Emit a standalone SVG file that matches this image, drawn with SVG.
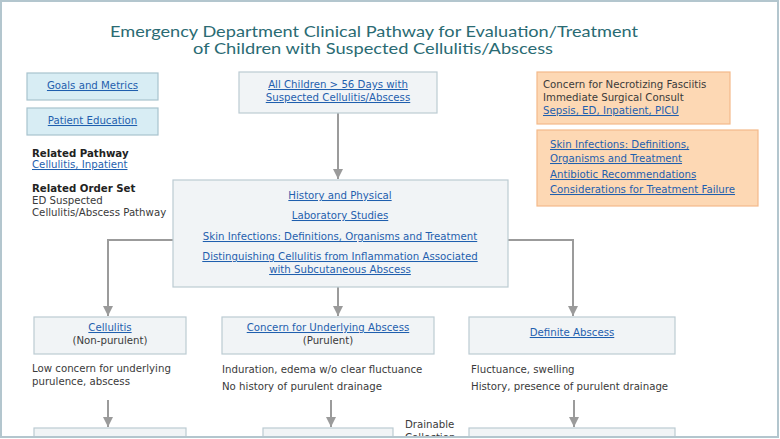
<svg xmlns="http://www.w3.org/2000/svg" width="780" height="439" viewBox="0 0 780 439">
<defs>
<style>
.t{font-family:"DejaVu Sans","Verdana",sans-serif;font-size:10.2px;fill:#3a3a3a}
.b{font-weight:bold;fill:#222}
.l{fill:#1f5fae;text-decoration:underline}
.c{text-anchor:middle}
.title{font-family:"Lato","Open Sans",sans-serif;font-size:16px;fill:#2a6b73;text-anchor:middle}
.blue{fill:#d8edf4;stroke:#a8c3ce;stroke-width:1.2}
.gray{fill:#f1f4f6;stroke:#bccbd2;stroke-width:1.2}
.orange{fill:#fdd8b4;stroke:#f3b98a;stroke-width:1.2}
.conn{fill:none;stroke:#9b9b9b;stroke-width:2}
</style>
<marker id="ah" viewBox="0 0 10 10" refX="10" refY="5" markerWidth="5" markerHeight="5" orient="auto" markerUnits="strokeWidth">
<path d="M0,0 L10,5 L0,10 z" fill="#9b9b9b"/>
</marker>
<clipPath id="frame"><rect x="0" y="0" width="780" height="437"/></clipPath>
</defs>
<rect x="0" y="0" width="780" height="439" fill="#ffffff"/>
<g clip-path="url(#frame)">
<text class="title" x="374" y="37" textLength="528" lengthAdjust="spacingAndGlyphs">Emergency Department Clinical Pathway for Evaluation/Treatment</text>
<text class="title" x="373" y="54" textLength="360" lengthAdjust="spacingAndGlyphs">of Children with Suspected Cellulitis/Abscess</text>

<g id="connectors">
<path class="conn" d="M338,113 V179" marker-end="url(#ah)"/>
<path class="conn" d="M173,240 H108 V316" marker-end="url(#ah)"/>
<path class="conn" d="M508,240 H573 V316" marker-end="url(#ah)"/>
<path class="conn" d="M338,287 V316" marker-end="url(#ah)"/>
<path class="conn" d="M108,400 V427" marker-end="url(#ah)"/>
<path class="conn" d="M331,400 V427" marker-end="url(#ah)"/>
<path class="conn" d="M574,400 V427" marker-end="url(#ah)"/>
</g>

<g id="goals">
<rect class="blue" x="27" y="73" width="131" height="27"/>
<text class="t l c" x="92.5" y="89">Goals and Metrics</text>
</g>
<g id="education">
<rect class="blue" x="27" y="108" width="131" height="27"/>
<text class="t l c" x="92.5" y="124">Patient Education</text>
</g>
<g id="related">
<text class="t b" x="32" y="157">Related Pathway</text>
<text class="t l" x="32" y="168">Cellulitis, Inpatient</text>
<text class="t b" x="32" y="192">Related Order Set</text>
<text class="t" x="32" y="204">ED Suspected</text>
<text class="t" x="32" y="216">Cellulitis/Abscess Pathway</text>
</g>
<g id="start">
<rect class="gray" x="239" y="72" width="198" height="41"/>
<text class="t l c" x="338" y="88">All Children &gt; 56 Days with</text>
<text class="t l c" x="338" y="101">Suspected Cellulitis/Abscess</text>
</g>
<g id="necrotizing">
<rect class="orange" x="537" y="72" width="193" height="52"/>
<text class="t" x="543" y="88">Concern for Necrotizing Fasciitis</text>
<text class="t" x="543" y="101">Immediate Surgical Consult</text>
<text class="t l" x="543" y="114">Sepsis, ED, Inpatient, PICU</text>
</g>
<g id="resources">
<rect class="orange" x="537" y="130" width="221" height="76"/>
<text class="t l" x="550" y="148">Skin Infections: Definitions,</text>
<text class="t l" x="550" y="162">Organisms and Treatment</text>
<text class="t l" x="550" y="178">Antibiotic Recommendations</text>
<text class="t l" x="550" y="193">Considerations for Treatment Failure</text>
</g>
<g id="evaluation">
<rect class="gray" x="173" y="180" width="335" height="107"/>
<text class="t l c" x="340" y="199">History and Physical</text>
<text class="t l c" x="340" y="219">Laboratory Studies</text>
<text class="t l c" x="340" y="240">Skin Infections: Definitions, Organisms and Treatment</text>
<text class="t l c" x="340" y="260">Distinguishing Cellulitis from Inflammation Associated</text>
<text class="t l c" x="340" y="273">with Subcutaneous Abscess</text>
</g>
<g id="cellulitis">
<rect class="gray" x="34" y="317" width="152" height="37"/>
<text class="t l c" x="110" y="331">Cellulitis</text>
<text class="t c" x="110" y="344">(Non-purulent)</text>
<text class="t" x="32" y="372">Low concern for underlying</text>
<text class="t" x="32" y="385">purulence, abscess</text>
</g>
<g id="concern-abscess">
<rect class="gray" x="222" y="317" width="212" height="37"/>
<text class="t l c" x="328" y="331">Concern for Underlying Abscess</text>
<text class="t c" x="328" y="344">(Purulent)</text>
<text class="t" x="222" y="373">Induration, edema w/o clear fluctuance</text>
<text class="t" x="222" y="390">No history of purulent drainage</text>
</g>
<g id="definite-abscess">
<rect class="gray" x="469" y="317" width="206" height="37"/>
<text class="t l c" x="572" y="336">Definite Abscess</text>
<text class="t" x="471" y="373">Fluctuance, swelling</text>
<text class="t" x="471" y="390">History, presence of purulent drainage</text>
</g>
<g id="antibiotic">
<rect class="gray" x="34" y="428" width="152" height="30"/>
<text class="t l c" x="110" y="444">Antibiotic</text>
</g>
<g id="ultrasound">
<rect class="gray" x="263" y="428" width="130" height="30"/>
<text class="t c" x="328" y="444">Ultrasound</text>
</g>
<g id="drainable">
<text class="t" x="405" y="428">Drainable</text>
<text class="t" x="405" y="441">Collection</text>
</g>
<g id="abscess-next">
<rect class="gray" x="469" y="428" width="206" height="30"/>
</g>
</g>
<rect x="1" y="1" width="777" height="436" fill="none" stroke="#b3c6ce" stroke-width="2"/>
</svg>
